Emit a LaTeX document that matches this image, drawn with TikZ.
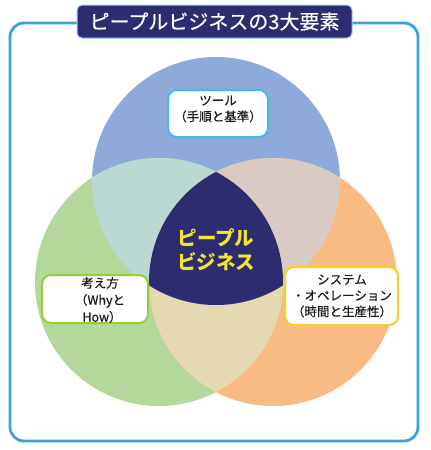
\documentclass[tikz,border=0pt]{standalone}
\usepackage{fontspec}
\setmainfont{Noto Sans CJK JP}
\newfontfamily\labfont[FakeBold=0.4]{Noto Sans CJK JP}
\definecolor{cblue}{HTML}{8EAADB}
\definecolor{cgreen}{HTML}{B4D89C}
\definecolor{corange}{HTML}{F9BB83}
\definecolor{cbg}{HTML}{BCD8D2}
\definecolor{cbo}{HTML}{D9CBC4}
\definecolor{cgo}{HTML}{E4D9B1}
\definecolor{cnavy}{HTML}{2D2C70}
\definecolor{cyel}{HTML}{F2E52E}
\definecolor{cframe}{HTML}{3AA2DC}
\definecolor{ctopb}{HTML}{3DBDE8}
\definecolor{cleftb}{HTML}{9BCB3C}
\definecolor{crightb}{HTML}{F6CF2A}
\tikzset{
  labelbox/.style={draw, line width=2pt, fill=white, rounded corners=9pt, inner sep=0pt},
  labeltext/.style={align=center, font=\labfont\fontsize{12.5}{16}\selectfont, text=black!90, inner sep=0pt},
}
\begin{document}
\begin{tikzpicture}[x=1pt,y=-1pt]
\useasboundingbox (0,0) rectangle (431,450);
% frame
\draw[cframe, line width=2.8pt, rounded corners=14pt] (10,23) rectangle (418,441);
% circles
\fill[cblue] (216,181) circle[radius=124pt];
\fill[cgreen] (159,282) circle[radius=124pt];
\fill[corange] (273,282) circle[radius=124pt];
\begin{scope}
  \clip (216,181) circle[radius=124pt];
  \fill[cbg] (159,282) circle[radius=124pt];
  \fill[cbo] (273,282) circle[radius=124pt];
\end{scope}
\begin{scope}
  \clip (159,282) circle[radius=124pt];
  \fill[cgo] (273,282) circle[radius=124pt];
  \clip (273,282) circle[radius=124pt];
  \fill[cnavy] (216,181) circle[radius=124pt];
\end{scope}
% title
\node[draw=cframe!50, line width=1pt, fill=cnavy, rounded corners=5pt, minimum width=275pt, minimum height=33pt, inner sep=0pt] (title) at (214.5,21.5) {};
\node[text=white, font=\labfont\fontsize{20}{24}\selectfont, inner sep=0pt] (titletext) at (title.center) {ピープルビジネスの3大要素};
% center
\node[text=cyel, font=\fontsize{19.5}{24}\selectfont\bfseries, align=center, inner sep=0pt] (center) at (216,250) {ピープル\\ビジネス};
% top box
\node[labelbox, draw=ctopb, minimum width=100pt, minimum height=47pt] (toolbox) at (218,113.5) {};
\node[labeltext] (tooltext) at (218,109) {ツール\\（手順と基準）};
% left box
\node[labelbox, draw=cleftb, minimum width=106pt, minimum height=48pt] (thinkbox) at (95,299) {};
\node[labeltext, font=\labfont\fontsize{12.5}{17}\selectfont] (thinktext) at (100,300) {考え方\\（Whyと\\\hspace*{4pt}How）};
% right box
\node[labelbox, draw=crightb, minimum width=113pt, minimum height=58pt] (sysbox) at (341.5,296) {};
\node[labeltext] (systext) at (342,296) {システム\\・オペレーション\\（時間と生産性）};
\end{tikzpicture}
\end{document}
